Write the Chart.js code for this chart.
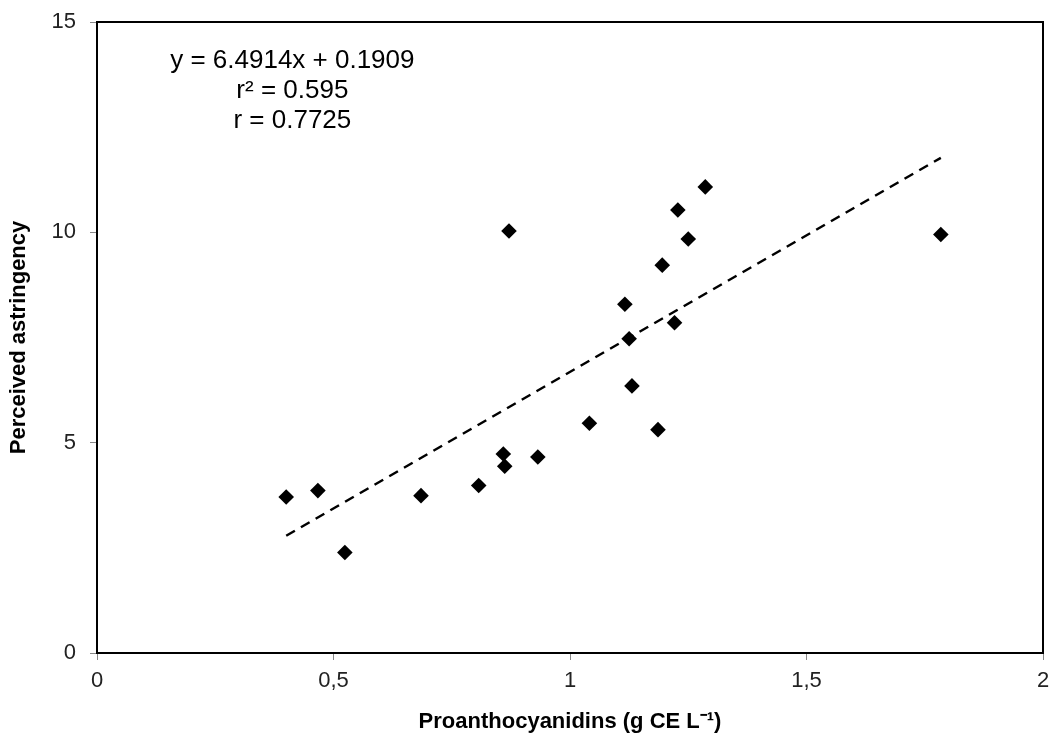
<!DOCTYPE html>
<html>
<head>
<meta charset="utf-8">
<script src="https://cdn.jsdelivr.net/npm/chart.js@4.4.1/dist/chart.umd.min.js"></script>
<style>
  html, body { margin: 0; padding: 0; background: #fff; }
  #wrap { width: 1054px; height: 735px; }
</style>
</head>
<body>
<div id="wrap"><canvas id="myChart" width="1054" height="735"></canvas></div>
<script>
// proanthocyanidins (g CE/L) vs perceived astringency
const proantho = [0.400, 0.467, 0.524, 0.685, 0.807, 0.859, 0.862, 0.871, 0.932, 1.041,
  1.116, 1.125, 1.131, 1.186, 1.195, 1.221, 1.228, 1.250, 1.286, 1.784];
const astringency = [3.71, 3.86, 2.39, 3.74, 3.98, 4.73, 4.44, 10.03, 4.66, 5.46,
  8.29, 7.47, 6.35, 5.31, 9.22, 7.85, 10.53, 9.84, 11.08, 9.95];
const slope = 6.4914;
const intercept = 0.1909;
const eqLines = ["y = 6.4914x + 0.1909", "r² = 0.595", "r = 0.7725"];
const xTicks = [0, 0.5, 1, 1.5, 2];
const yTicks = [0, 5, 10, 15];

const points = proantho.map((x, i) => ({ x: x, y: astringency[i] }));
const xMin = Math.min(...proantho);
const xMax = Math.max(...proantho);
const fitLine = [
  { x: xMin, y: slope * xMin + intercept },
  { x: xMax, y: slope * xMax + intercept },
];

const font = "'Liberation Sans', Arial, sans-serif";

// frame round the plot area + regression text
const boxPlugin = {
  id: "box",
  afterDraw(chart) {
    const ctx = chart.ctx;
    const a = chart.chartArea;
    ctx.save();
    ctx.strokeStyle = "#000";
    ctx.lineWidth = 2;
    ctx.strokeRect(a.left, a.top, a.right - a.left, a.bottom - a.top);
    const xs = chart.scales.x, ys = chart.scales.y;
    ctx.fillStyle = "#000";
    ctx.font = "26px " + font;
    ctx.textAlign = "center";
    ctx.textBaseline = "alphabetic";
    const cx = xs.getPixelForValue(0.413);
    eqLines.forEach((t, i) => {
      ctx.fillText(t, cx, ys.getPixelForValue(13.9) + i * 30);
    });
    ctx.restore();
  },
};

new Chart("myChart", {
  type: "scatter",
  data: {
    datasets: [
      {
        label: "data",
        data: points,
        pointStyle: "rectRot",
        pointRadius: 7.8,
        pointHoverRadius: 7.8,
        backgroundColor: "#000",
        borderColor: "#000",
        borderWidth: 0,
      },
      {
        type: "line",
        label: "fit",
        data: fitLine,
        borderColor: "#000",
        borderWidth: 2.5,
        borderDash: [10, 7],
        pointRadius: 0,
        fill: false,
      },
    ],
  },
  options: {
    responsive: false,
    animation: false,
    layout: { padding: { top: 22, right: 11, left: 0, bottom: 0 } },
    plugins: {
      legend: { display: false },
      tooltip: { enabled: false },
    },
    scales: {
      x: {
        type: "linear",
        min: 0,
        max: 2,
        afterBuildTicks: (s) => { s.ticks = xTicks.map((v) => ({ value: v })); },
        afterFit: (s) => { s.height = 82; s.paddingLeft = 0; s.paddingRight = 0; },
        grid: { drawOnChartArea: false, drawTicks: true, tickLength: 7, color: "#888" },
        border: { display: false },
        ticks: {
          padding: 8,
          color: "#222",
          font: { family: font, size: 22 },
          callback: (v) => String(v).replace(".", ","),
        },
        title: {
          display: true,
          text: "Proanthocyanidins (g CE L⁻¹)",
          color: "#000",
          font: { family: font, size: 22, weight: "bold" },
          padding: { top: 4, bottom: 0 },
        },
      },
      y: {
        type: "linear",
        min: 0,
        max: 15,
        afterBuildTicks: (s) => { s.ticks = yTicks.map((v) => ({ value: v })); },
        afterFit: (s) => { s.width = 97; s.paddingTop = 0; s.paddingBottom = 0; },
        grid: { drawOnChartArea: false, drawTicks: true, tickLength: 7, color: "#888" },
        border: { display: false },
        ticks: {
          padding: 14,
          color: "#222",
          font: { family: font, size: 22 },
        },
        title: {
          display: true,
          text: "Perceived astringency",
          color: "#000",
          font: { family: font, size: 22, weight: "bold" },
          padding: { top: 6, bottom: 0 },
        },
      },
    },
  },
  plugins: [boxPlugin],
});
</script>
</body>
</html>
